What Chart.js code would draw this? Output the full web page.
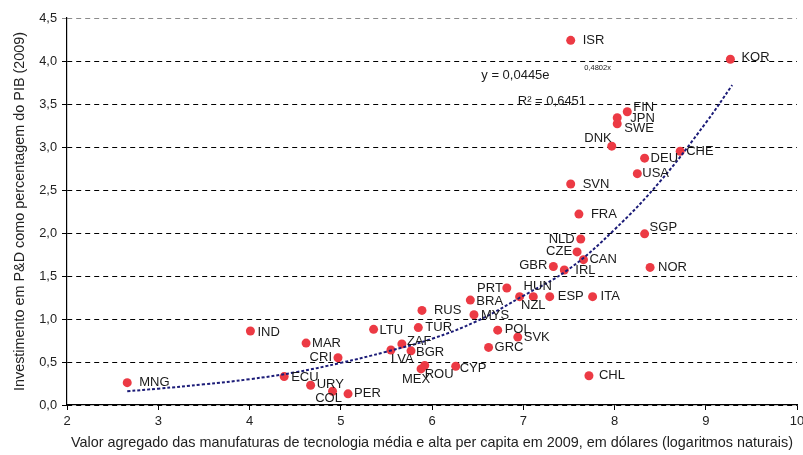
<!DOCTYPE html>
<html>
<head>
<meta charset="utf-8">
<script src="https://cdn.jsdelivr.net/npm/chart.js@4/dist/chart.umd.min.js"></script>
<style>
html,body{margin:0;padding:0;background:#fff;}
#wrap{width:803px;height:455px;}
</style>
</head>
<body>
<div id="wrap"><canvas id="c" width="803" height="455"></canvas></div>
<script>
// ---- data ----
const countries = ['ISR','KOR','FIN','JPN','SWE','DNK','DEU','CHE','USA','SVN','FRA','SGP','NLD','CZE','CAN','GBR','IRL','NOR','PRT','HUN','NZL','ESP','ITA','BRA','MYS','RUS','LTU','TUR','POL','SVK','GRC','ZAF','LVA','BGR','MAR','CRI','ROU','MEX','CYP','CHL','URY','COL','PER','IND','ECU','MNG'];
const techValueAddedLog = [7.52,9.27,8.14,8.03,8.03,7.97,8.33,8.72,8.25,7.52,7.61,8.33,7.63,7.59,7.66,7.33,7.45,8.39,6.82,6.96,7.11,7.29,7.76,6.42,6.46,5.89,5.36,5.85,6.72,6.94,6.62,5.67,5.55,5.77,4.62,4.97,5.92,5.88,6.26,7.72,4.67,4.91,5.08,4.01,4.38,2.66];
const rdShareGdp = [4.24,4.02,3.41,3.34,3.27,3.01,2.87,2.95,2.69,2.57,2.22,1.99,1.93,1.78,1.69,1.61,1.57,1.60,1.36,1.26,1.26,1.26,1.26,1.22,1.05,1.10,0.88,0.90,0.87,0.79,0.67,0.71,0.64,0.63,0.72,0.55,0.46,0.42,0.45,0.34,0.23,0.16,0.13,0.86,0.33,0.26];
const trendX = [2.66,3.0,3.5,4.0,4.5,5.0,5.5,6.0,6.5,7.0,7.5,8.0,8.5,9.0,9.29];
const trendY = [0.16,0.19,0.24,0.30,0.38,0.49,0.62,0.77,0.98,1.27,1.58,2.04,2.60,3.28,3.72];
const xTickValues = [2,3,4,5,6,7,8,9,10];
const yTickValues = [0,0.5,1,1.5,2,2.5,3,3.5,4,4.5];
const equationMain = 'y = 0,0445e';
const equationExp = '0,4802x';
const rSquaredText = 'R² = 0,6451';
const xTitle = 'Valor agregado das manufaturas de tecnologia média e alta per capita em 2009, em dólares (logaritmos naturais)';
const yTitle = 'Investimento em P&D como percentagem do PIB (2009)';

// ---- label placement (style, not data): [align, dx, dy] in px ----
const labelPlacement = {
  ISR:['l',12,0], KOR:['l',11,-2], FIN:['l',6,-4], JPN:['l',13,1], SWE:['l',7,5], DNK:['r',0,-8],
  DEU:['l',6,0], CHE:['l',6,0], USA:['l',5,0], SVN:['l',12,0], FRA:['l',12,0], SGP:['l',5,-6],
  NLD:['r',-6,0], CZE:['r',-5,0], CAN:['l',6,0], GBR:['r',-6,-1], IRL:['l',11,0], NOR:['l',8,0],
  PRT:['r',-4,0], HUN:['l',4,-10], NZL:['c',0,9], ESP:['l',8,0], ITA:['l',8,0], BRA:['l',6,1],
  MYS:['l',7,1], RUS:['l',12,0], LTU:['l',6,1], TUR:['l',7,0], POL:['l',7,-1], SVK:['l',6,0],
  GRC:['l',6,0], ZAF:['l',5,-3], LVA:['l',0,9], BGR:['l',5,2], MAR:['l',6,0], CRI:['r',-6,0],
  ROU:['l',0,9], MEX:['c',-5,11], CYP:['l',4,2], CHL:['l',10,0], URY:['l',6,-1], COL:['c',-4,7],
  PER:['l',6,0], IND:['l',7,1], ECU:['l',7,1], MNG:['l',12,0]
};

const FONT = '"Liberation Sans", Arial, sans-serif';

const pointData = countries.map((c, i) => ({x: techValueAddedLog[i], y: rdShareGdp[i]}));
const trendData = trendX.map((x, i) => ({x: x, y: trendY[i]}));

const labelsPlugin = {
  id: 'pointLabels',
  afterDatasetsDraw(chart) {
    const ctx = chart.ctx;
    const meta = chart.getDatasetMeta(1);
    ctx.save();
    ctx.font = '13px ' + FONT;
    ctx.fillStyle = '#1a1a1a';
    ctx.textBaseline = 'middle';
    meta.data.forEach((el, i) => {
      const name = countries[i];
      const p = labelPlacement[name] || ['l', 7, 0];
      ctx.textAlign = p[0] === 'l' ? 'left' : (p[0] === 'r' ? 'right' : 'center');
      ctx.fillText(name, el.x + p[1], el.y + p[2]);
    });
    // trendline equation
    const xs = chart.scales.x, ys = chart.scales.y;
    const ex = xs.getPixelForValue(6.54), ey = ys.getPixelForValue(3.83);
    ctx.textAlign = 'left';
    ctx.font = '13px ' + FONT;
    ctx.fillText(equationMain, ex, ey);
    ctx.font = '7.5px ' + FONT;
    ctx.fillText(equationExp, ex + 103, ey - 8);
    ctx.font = '13px ' + FONT;
    ctx.fillText(rSquaredText, xs.getPixelForValue(6.94), ys.getPixelForValue(3.527));
    ctx.restore();
  }
};

new Chart(document.getElementById('c'), {
  type: 'scatter',
  data: {
    datasets: [
      {
        label: 'trend',
        data: trendData,
        showLine: true,
        pointRadius: 0,
        borderColor: '#1c1c78',
        borderWidth: 2,
        borderDash: [3, 2],
        tension: 0.4,
        fill: false
      },
      {
        label: 'países',
        data: pointData,
        pointRadius: 4.5,
        pointHoverRadius: 4.5,
        backgroundColor: '#ec3a44',
        borderColor: '#ec3a44',
        borderWidth: 0
      }
    ]
  },
  options: {
    responsive: false,
    devicePixelRatio: 1,
    animation: false,
    events: [],
    layout: {padding: {left: 0, top: 18, right: 6, bottom: 0}},
    plugins: {legend: {display: false}, tooltip: {enabled: false}},
    scales: {
      x: {
        type: 'linear',
        min: 2, max: 10,
        afterBuildTicks(s) { s.ticks = xTickValues.map(v => ({value: v})); },
        afterFit(s) { s.height = 50; s.paddingLeft = 0; s.paddingRight = 0; },
        ticks: {
          color: '#222',
          font: {family: FONT, size: 13},
          padding: 4,
          maxRotation: 0,
          callback: v => String(v)
        },
        grid: {display: true, drawOnChartArea: false, drawTicks: true, tickLength: 5, color: '#000', lineWidth: 1},
        border: {display: true, color: '#000', width: 1.2},
        title: {
          display: true,
          text: xTitle,
          color: '#222',
          font: {family: FONT, size: 14.4},
          padding: {top: 0, bottom: 3}
        }
      },
      y: {
        type: 'linear',
        min: 0, max: 4.5,
        afterBuildTicks(s) { s.ticks = yTickValues.map(v => ({value: v})); },
        afterFit(s) { s.width = 67; s.paddingTop = 0; s.paddingBottom = 0; },
        ticks: {
          color: '#222',
          font: {family: FONT, size: 12.8},
          padding: 5,
          callback: v => Number(v).toFixed(1).replace('.', ',')
        },
        grid: {
          display: true,
          drawOnChartArea: true,
          drawTicks: true,
          tickLength: 5,
          tickBorderDash: [],
          color: ctx => (ctx.tick && ctx.tick.value === 4.5) ? '#8c8c8c' : '#000',
          lineWidth: 1
        },
        border: {display: true, color: '#000', width: 1.2, dash: [5, 4]},
        title: {
          display: true,
          text: yTitle,
          color: '#222',
          font: {family: FONT, size: 14.4},
          padding: {top: 11, bottom: 0}
        }
      }
    }
  },
  plugins: [labelsPlugin]
});
</script>
</body>
</html>
